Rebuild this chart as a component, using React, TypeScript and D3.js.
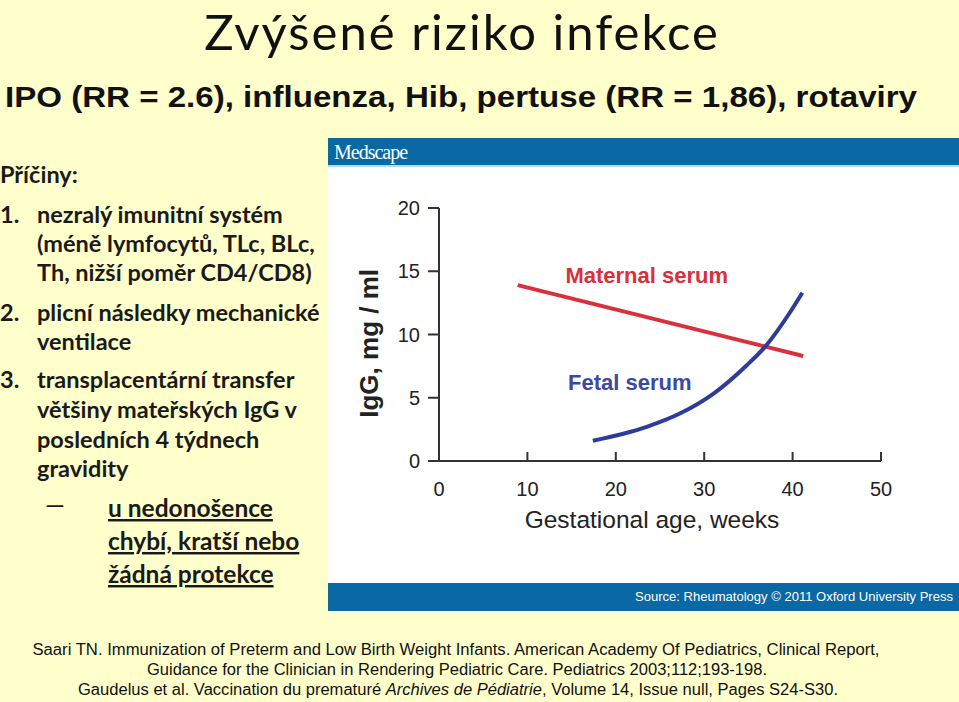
import React from 'react';
import * as d3 from 'd3';

// ---- data ----
const xTicks = [0, 10, 20, 30, 40, 50];
const yTicks = [0, 5, 10, 15, 20];
const maternalWeeks = [8.9, 41.2];
const maternalIgG = [13.9, 8.3];
const fetalWeeks = [17.4, 23.5, 27.3, 31.1, 34.85, 36.9, 39.75, 41.1];
const fetalIgG = [1.6, 2.7, 3.77, 5.35, 7.59, 9.04, 11.8, 13.3];
const seriesNames = ['Maternal serum', 'Fetal serum'];
const seriesLabelWeeks = [14.3, 14.6];
const seriesLabelIgG = [14.07, 5.6];
const xTitle = 'Gestational age, weeks';
const yTitle = 'IgG, mg / ml';
const title = 'Zvýšené riziko infekce';
const subtitle = 'IPO (RR = 2.6), influenza, Hib, pertuse (RR = 1,86), rotaviry';
const causesHeader = 'Příčiny:';
const causeLines = [
  { n: '1.', t: 'nezralý imunitní systém' },
  { n: '', t: '(méně lymfocytů, TLc, BLc,' },
  { n: '', t: 'Th, nižší poměr CD4/CD8)' },
  { n: '2.', t: 'plicní následky mechanické' },
  { n: '', t: 'ventilace' },
  { n: '3.', t: 'transplacentární transfer' },
  { n: '', t: 'většiny mateřských IgG v' },
  { n: '', t: 'posledních 4 týdnech' },
  { n: '', t: 'gravidity' },
];
const causeBaselines = [223, 252, 281, 321, 350, 388, 418, 448, 477];
const subLines = ['u nedonošence', 'chybí, kratší nebo', 'žádná protekce'];
const subBaselines = [517, 550, 583];
const references = [
  'Saari TN.  Immunization of Preterm and Low Birth Weight Infants. American Academy Of Pediatrics, Clinical Report,',
  'Guidance for the Clinician in Rendering Pediatric Care. Pediatrics 2003;112;193-198.',
];
const ref3a = 'Gaudelus et al. Vaccination du prematuré ';
const ref3b = 'Archives de Pédiatrie';
const ref3c = ', Volume 14, Issue null, Pages S24-S30.';
const sourceText = 'Source: Rheumatology © 2011 Oxford University Press';

const W = 959;
const H = 702;
const BG = '#FFFFCC';
const BLUE = '#0A69A5';
const RED = '#DA2F3D';
const NAVY = '#2C3C98';
const AXIS = '#333';

export default function App() {
  const x = d3.scaleLinear().domain([0, 50]).range([439, 881]);
  const y = d3.scaleLinear().domain([0, 20]).range([461, 208]);

  const line = d3
    .line<[number, number]>()
    .x((d) => x(d[0]))
    .y((d) => y(d[1]));
  const curve = d3
    .line<[number, number]>()
    .x((d) => x(d[0]))
    .y((d) => y(d[1]))
    .curve(d3.curveMonotoneX);

  const maternal = maternalWeeks.map((w, i) => [w, maternalIgG[i]] as [number, number]);
  const fetal = fetalWeeks.map((w, i) => [w, fetalIgG[i]] as [number, number]);

  const calibri = 'Lato, "Open Sans", sans-serif';
  const arial = '"Liberation Sans", Arial, sans-serif';
  const narrow = '"Liberation Sans Narrow", "Arial Narrow", "Liberation Sans", sans-serif';

  return (
    <svg
      width={W}
      height={H}
      viewBox={`0 0 ${W} ${H}`}
      style={{ position: 'absolute', left: 0, top: 0, display: 'block' }}
    >
      <rect x={0} y={0} width={W} height={H} fill={BG} />

      {/* title */}
      <text x={462} y={50} textAnchor="middle" fontFamily={calibri} fontSize={49} letterSpacing={2} fill="#111">
        {title}
      </text>
      <text x={5} y={107} fontFamily={arial} fontWeight="bold" fontSize={30} fill="#111" textLength={912} lengthAdjust="spacingAndGlyphs">
        {subtitle}
      </text>

      {/* left text */}
      <g fontFamily={calibri} fontWeight="bold" fontSize={23.5} fill="#1a1a1a">
        <text x={0} y={183}>{causesHeader}</text>
        {causeLines.map((l, i) => (
          <g key={i}>
            {l.n && <text x={0} y={causeBaselines[i]}>{l.n}</text>}
            <text x={37} y={causeBaselines[i]}>{l.t}</text>
          </g>
        ))}
        <text x={43} y={subBaselines[0] - 3} fontSize={25} fontWeight="normal" textLength={24} lengthAdjust="spacingAndGlyphs">–</text>
        {subLines.map((s, i) => (
          <text key={i} x={108} y={subBaselines[i]} fontSize={24.5} textDecoration="underline">
            {s}
          </text>
        ))}
      </g>

      {/* chart panel */}
      <rect x={328} y={138} width={W - 328} height={473} fill="#fff" />
      <rect x={328} y={138} width={W - 328} height={27} fill={BLUE} />
      <rect x={328} y={165} width={W - 328} height={2} fill="#A8E2F2" />
      <rect x={328} y={583} width={W - 328} height={28} fill={BLUE} />
      <text x={334} y={159} fontFamily='"Liberation Serif", "DejaVu Serif", serif' fontSize={20} letterSpacing={-1} fill="#fff">
        Medscape
      </text>
      <text x={953} y={601} textAnchor="end" fontFamily={arial} fontSize={13} fill="#fff" textLength={318} lengthAdjust="spacingAndGlyphs">
        {sourceText}
      </text>

      {/* axes */}
      <g stroke={AXIS} strokeWidth={2} fill="none">
        <line x1={x(0)} x2={x(50)} y1={y(0)} y2={y(0)} />
        <line x1={x(0)} x2={x(0)} y1={y(0)} y2={y(20)} />
        {xTicks.map((t) => (
          <line key={'xt' + t} x1={x(t)} x2={x(t)} y1={y(0)} y2={y(0) - 9} />
        ))}
        {yTicks.map((t) => (
          <line key={'yt' + t} x1={x(0) - 11} x2={x(0)} y1={y(t)} y2={y(t)} />
        ))}
      </g>
      <g fontFamily={arial} fontSize={20} fill="#222">
        {xTicks.map((t) => (
          <text key={'xl' + t} x={x(t)} y={y(0) + 35} textAnchor="middle">
            {t}
          </text>
        ))}
        {yTicks.map((t) => (
          <text key={'yl' + t} x={x(0) - 19} y={y(t) + 7} textAnchor="end">
            {t}
          </text>
        ))}
      </g>
      <text x={652} y={528} textAnchor="middle" fontFamily={arial} fontSize={24.5} fill="#222">
        {xTitle}
      </text>
      <text
        transform={`translate(378, ${y(9.3)}) rotate(-90)`}
        textAnchor="middle"
        fontFamily={arial}
        fontWeight="bold"
        fontSize={26}
        fill="#222"
      >
        {yTitle}
      </text>

      {/* series */}
      <path d={line(maternal) || ''} fill="none" stroke={RED} strokeWidth={4} />
      <path d={curve(fetal) || ''} fill="none" stroke={NAVY} strokeWidth={4} />
      <text x={x(seriesLabelWeeks[0])} y={y(seriesLabelIgG[0])} fontFamily={arial} fontWeight="bold" fontSize={22} fill={RED}>
        {seriesNames[0]}
      </text>
      <text x={x(seriesLabelWeeks[1])} y={y(seriesLabelIgG[1])} fontFamily={arial} fontWeight="bold" fontSize={22} fill="#3B4A9E">
        {seriesNames[1]}
      </text>

      {/* references */}
      <g fontFamily={narrow} fontSize={16} fill="#111" textAnchor="middle">
        <text x={456} y={655} textLength={847} lengthAdjust="spacingAndGlyphs">{references[0]}</text>
        <text x={457} y={675} textLength={620} lengthAdjust="spacingAndGlyphs">{references[1]}</text>
        <text x={458} y={695} textLength={760} lengthAdjust="spacingAndGlyphs">
          {ref3a}
          <tspan fontStyle="italic">{ref3b}</tspan>
          {ref3c}
        </text>
      </g>
    </svg>
  );
}
